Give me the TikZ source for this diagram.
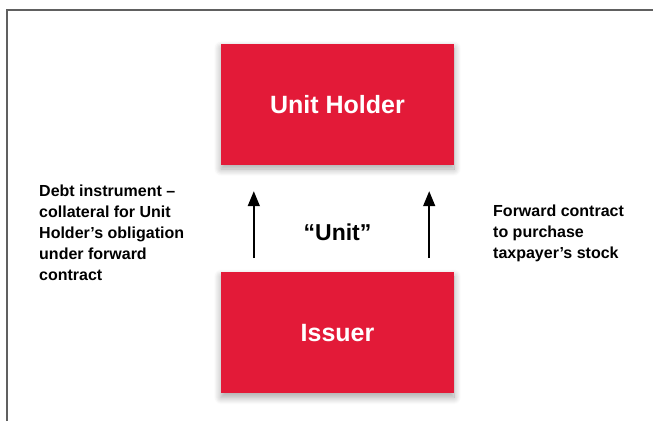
\documentclass[tikz,border=0pt]{standalone}
\usepackage{fontspec}
\setmainfont{Liberation Sans}
\usetikzlibrary{arrows.meta, positioning, shadows.blur}
\definecolor{unitred}{RGB}{227,26,56}
\definecolor{framegray}{RGB}{96,96,96}

\begin{document}
\begin{tikzpicture}[x=1pt, y=-1pt,
    redbox/.style={fill=unitred, minimum width=233pt, minimum height=121pt, inner sep=0pt,
        text=white, font=\fontsize{25}{30}\selectfont\bfseries,
        blur shadow={shadow blur steps=10, shadow xshift=0pt, shadow yshift=-4pt, shadow opacity=35, shadow blur radius=7pt}},
    sidetext/.style={anchor=north west, align=left, inner sep=0pt, font=\fontsize{16}{21}\selectfont\bfseries},
    uparrow/.style={-{Triangle[length=15pt, width=12pt]}, line width=1.5pt}]

    \useasboundingbox (0,0) rectangle (653,421);

    % Khung viền
    \draw[framegray, line width=2pt] (7,421) -- (7,10) -- (653,10);

    % Hai ô đỏ
    \node[redbox] (holder) at (337.5,104.5) {Unit Holder};
    \node[redbox, below=107pt of holder] (issuer) {Issuer};

    % Chữ hai bên
    \node[sidetext] (debt) at (39,185) {Debt instrument --\\collateral for Unit\\Holder’s obligation\\under forward\\contract};
    \node[sidetext] (forward) at (493,205) {Forward contract\\to purchase\\taxpayer’s stock};
    \node[inner sep=0pt, font=\fontsize{23}{28}\selectfont\bfseries] (unit) at (337.5,232) {“Unit”};

    % Mũi tên
    \coordinate (la) at ([xshift=33pt, yshift=14pt]issuer.north west);
    \coordinate (lb) at ([xshift=33pt, yshift=-26pt]holder.south west);
    \coordinate (ra) at ([xshift=-25pt, yshift=14pt]issuer.north east);
    \coordinate (rb) at ([xshift=-25pt, yshift=-26pt]holder.south east);
    \draw[uparrow] (la) -- (lb);
    \draw[uparrow] (ra) -- (rb);

\end{tikzpicture}
\end{document}
